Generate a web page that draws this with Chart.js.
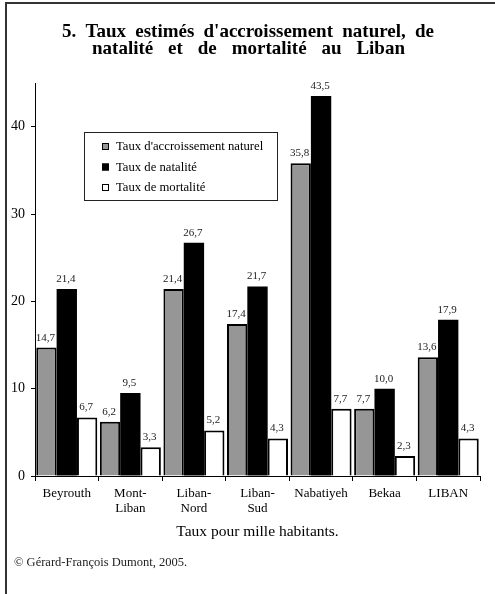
<!DOCTYPE html>
<html lang="fr">
<head>
<meta charset="utf-8">
<title>Taux estimés d'accroissement naturel, de natalité et de mortalité au Liban</title>
<script src="https://cdn.jsdelivr.net/npm/chart.js@4/dist/chart.umd.min.js"></script>
<style>
  html, body { margin: 0; padding: 0; background: #fff; }
  #wrap { position: relative; width: 495px; height: 594px; overflow: hidden; }
  #frame {
    position: absolute; left: 5px; top: 2px; right: 0; bottom: 0;
    border-top: 2px solid #333; border-left: 2px solid #333;
    pointer-events: none;
  }
  canvas { position: absolute; left: 0; top: 0; }
</style>
</head>
<body>
<div id="wrap">
  <canvas id="chart" width="495" height="594"></canvas>
  <div id="frame"></div>
</div>
<script>
// Régions et taux pour mille habitants
const regions = ['Beyrouth', ['Mont-', 'Liban'], ['Liban-', 'Nord'], ['Liban-', 'Sud'], 'Nabatiyeh', 'Bekaa', 'LIBAN'];
const accroissement = [14.7, 6.2, 21.4, 17.4, 35.8, 7.7, 13.6];
const natalite      = [21.4, 9.5, 26.7, 21.7, 43.5, 10.0, 17.9];
const mortalite     = [6.7, 3.3, 5.2, 4.3, 7.7, 2.3, 4.3];
const yTicks = [0, 10, 20, 30, 40];

const titleLines = ["5. Taux estimés d'accroissement naturel, de", "natalité et de mortalité au Liban"];
const axisTitle = 'Taux pour mille habitants.';
const source = '© Gérard-François Dumont, 2005.';

const SERIF = '"Liberation Serif", "Times New Roman", serif';
const fmt = v => v.toFixed(1).replace('.', ',');

// Draws a line of text justified between x0 and x1 by widening the word gaps
function justified(ctx, text, x0, x1, y) {
  const words = text.split(' ');
  const total = words.reduce((s, w) => s + ctx.measureText(w).width, 0);
  const gap = (x1 - x0 - total) / (words.length - 1);
  let x = x0;
  words.forEach(w => {
    ctx.fillText(w, x, y);
    x += ctx.measureText(w).width + gap;
  });
}

// Titre, légende encadrée, valeurs au-dessus des barres et source
const decorations = {
  id: 'decorations',
  afterDatasetsDraw(chart) {
    const ctx = chart.ctx;
    ctx.save();
    ctx.font = '11px ' + SERIF;
    ctx.fillStyle = '#222';
    ctx.textAlign = 'center';
    ctx.textBaseline = 'middle';
    chart.data.datasets.forEach((ds, i) => {
      chart.getDatasetMeta(i).data.forEach((bar, j) => {
        ctx.fillText(fmt(ds.data[j]), bar.x - 1, bar.y - 10);
      });
    });
    ctx.restore();
  },
  afterDraw(chart) {
    const ctx = chart.ctx;
    ctx.save();

    // titre sur deux lignes, justifié
    ctx.font = 'bold 19px ' + SERIF;
    ctx.fillStyle = '#000';
    ctx.textAlign = 'left';
    ctx.textBaseline = 'alphabetic';
    justified(ctx, titleLines[0], 62, 434, 37);
    justified(ctx, titleLines[1], 92, 405, 54);

    // légende
    const lx = 84, ly = 132, lw = 193, lh = 68;
    ctx.fillStyle = '#fff';
    ctx.fillRect(lx, ly, lw, lh);
    ctx.strokeStyle = '#222';
    ctx.lineWidth = 1;
    ctx.strokeRect(lx + 0.5, ly + 0.5, lw, lh);
    ctx.font = '12.7px ' + SERIF;
    ctx.textBaseline = 'middle';
    chart.data.datasets.forEach((ds, i) => {
      const cy = 146 + i * 20.5;
      ctx.fillStyle = ds.backgroundColor;
      ctx.fillRect(102, cy - 3, 7, 7);
      ctx.strokeStyle = '#000';
      ctx.strokeRect(102.5, cy - 2.5, 6, 6);
      ctx.fillStyle = '#000';
      ctx.fillText(ds.label, 116, cy + 1);
    });

    // source
    ctx.font = '12.5px ' + SERIF;
    ctx.fillStyle = '#222';
    ctx.fillText(source, 14, 563);
    ctx.restore();
  }
};

new Chart(document.getElementById('chart'), {
  type: 'bar',
  data: {
    labels: regions,
    datasets: [
      { label: "Taux d'accroissement naturel", data: accroissement, backgroundColor: '#969696', borderWidth: 2 },
      { label: 'Taux de natalité', data: natalite, backgroundColor: '#000000', borderWidth: 0 },
      { label: 'Taux de mortalité', data: mortalite, backgroundColor: '#ffffff', borderWidth: 2 }
    ]
  },
  options: {
    responsive: false,
    animation: false,
    devicePixelRatio: 1,
    layout: { padding: { top: 83, right: 15, bottom: 48, left: 0 } },
    datasets: {
      bar: {
        borderColor: '#000',
        borderSkipped: 'start',
        categoryPercentage: 0.96,
        barPercentage: 1.0
      }
    },
    plugins: {
      legend: { display: false },
      title: { display: false },
      tooltip: { enabled: false }
    },
    scales: {
      x: {
        grid: { display: true, drawOnChartArea: false, drawTicks: true, tickLength: 5, color: '#000', offset: true },
        border: { display: true, color: '#000', width: 1 },
        ticks: {
          color: '#000',
          padding: 5,
          maxRotation: 0,
          autoSkip: false,
          font: { family: SERIF, size: 13, lineHeight: 1.15 }
        },
        title: {
          display: true,
          text: axisTitle,
          color: '#000',
          font: { family: SERIF, size: 15.5, lineHeight: 1.2 },
          padding: { top: 0, bottom: 5 }
        },
        afterFit(scale) { scale.height = 70; }
      },
      y: {
        min: 0,
        max: 45,
        grid: { display: true, drawOnChartArea: false, drawTicks: true, tickLength: 4, color: '#000' },
        border: { display: true, color: '#000', width: 1 },
        ticks: {
          color: '#000',
          padding: 6,
          font: { family: SERIF, size: 14 }
        },
        afterBuildTicks(scale) { scale.ticks = yTicks.map(v => ({ value: v })); },
        afterFit(scale) { scale.width = 35; }
      }
    }
  },
  plugins: [decorations]
});
</script>
</body>
</html>
